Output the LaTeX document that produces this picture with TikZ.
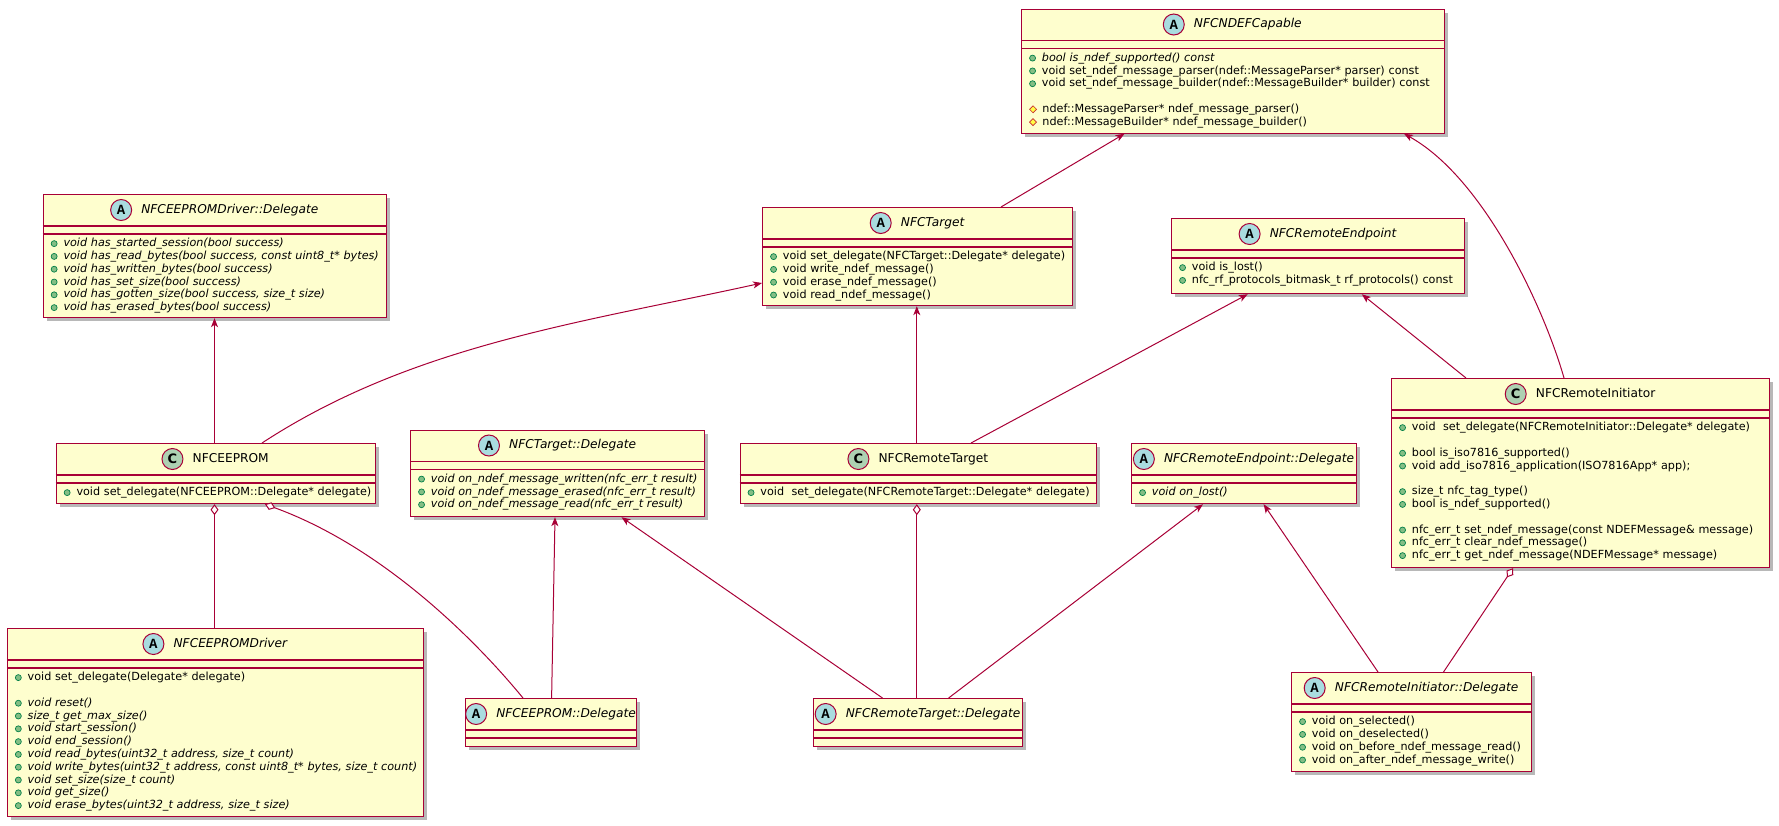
\documentclass[tikz,border=0pt]{standalone}
\usepackage{fontspec}
\setmainfont{DejaVu Sans}
\newfontfamily\monofont{Liberation Mono}
\usepackage{xcolor}
\usetikzlibrary{arrows.meta}
\usetikzlibrary{positioning}
\usetikzlibrary{shadows}

\definecolor{boxfill}{HTML}{FEFECE}
\definecolor{boxline}{HTML}{A80036}
\definecolor{absfill}{HTML}{A9DCDF}
\definecolor{clsfill}{HTML}{ADD1B2}
\definecolor{pubfill}{HTML}{84BE84}
\definecolor{publine}{HTML}{038048}
\definecolor{protfill}{HTML}{FFFF44}
\definecolor{protline}{HTML}{C82930}

\newcommand\titlefont{\fontsize{12.2}{14}\selectfont}
\newcommand\memberfont{\fontsize{11.2}{12.8}\selectfont}

\tikzset{
  pubicon/.style={draw=publine, fill=pubfill, line width=.7pt},
  proticon/.style={draw=protline, fill=protfill, line width=.7pt},
}
\newcommand\pub{\tikz[baseline=-3.1pt]\filldraw[pubicon] (0pt,0pt) circle (3pt);\hspace{6pt}}
\newcommand\prot{\tikz[baseline=-3.1pt]\filldraw[proticon] (-3.5pt,0pt) -- (0pt,3.5pt) -- (3.5pt,0pt) -- (0pt,-3.5pt) -- cycle;\hspace{5.5pt}}

% name, x, y, width, height, kind (A/C), title, members
\newcommand\umlclass[8]{%
  \node[classbox, minimum width=#4pt, minimum height=#5pt] (#1) at (#2,#3) {};
  \draw[classline] ([yshift=-32pt]#1.north west) -- ([yshift=-32pt]#1.north east);
  \draw[classline] ([yshift=-40pt]#1.north west) -- ([yshift=-40pt]#1.north east);
  \node[title#6] (#1-t) at ([xshift=15pt,yshift=-16pt]#1.north) {#7};
  \node[icon#6, left=9pt of #1-t] (#1-i) {#6};
  \node[members] (#1-m) at ([xshift=8pt,yshift=-44pt]#1.north west) {#8};
}

\begin{document}
\begin{tikzpicture}[x=1pt, y=-1pt,
    classbox/.style={draw=boxline, fill=boxfill, line width=1.2pt, anchor=north west, inner sep=0pt,
      drop shadow={shadow xshift=3.5pt, shadow yshift=-3.5pt, fill=black, opacity=.28}},
    classline/.style={draw=boxline, line width=1.2pt},
    titleA/.style={inner sep=0pt, text height=9pt, text depth=2.5pt, font=\titlefont\itshape},
    titleC/.style={inner sep=0pt, text height=9pt, text depth=2.5pt, font=\titlefont},
    iconA/.style={circle, draw=boxline, fill=absfill, line width=1pt, minimum size=21pt, inner sep=0pt,
      font=\monofont\bfseries\fontsize{14}{14}\selectfont},
    iconC/.style={circle, draw=boxline, fill=clsfill, line width=1pt, minimum size=21pt, inner sep=0pt,
      font=\bfseries\fontsize{13}{13}\selectfont},
    members/.style={anchor=north west, inner sep=0pt, align=left, text width=700pt, font=\memberfont},
    assoc/.style={draw=boxline, line width=1pt, -{Stealth[length=9pt, width=7pt, inset=2.5pt]}},
    aggr/.style={draw=boxline, line width=1pt, {Diamond[fill=white, length=11pt, width=8pt]}-},
  ]
\useasboundingbox (0,0) rectangle (1779,825);

% top row
\umlclass{ndefcap}{1021}{8.5}{422.5}{124}{A}{NFCNDEFCapable}{%
  \pub\textit{bool is\_ndef\_supported() const}\\
  \pub void set\_ndef\_message\_parser(ndef::MessageParser* parser) const\\
  \pub void set\_ndef\_message\_builder(ndef::MessageBuilder* builder) const\\[12.8pt]
  \prot ndef::MessageParser* ndef\_message\_parser()\\
  \prot ndef::MessageBuilder* ndef\_message\_builder()}
\umlclass{eepdrvdel}{42.6}{194}{343.4}{123}{A}{NFCEEPROMDriver::Delegate}{%
  \pub\textit{void has\_started\_session(bool success)}\\
  \pub\textit{void has\_read\_bytes(bool success, const uint8\_t* bytes)}\\
  \pub\textit{void has\_written\_bytes(bool success)}\\
  \pub\textit{void has\_set\_size(bool success)}\\
  \pub\textit{void has\_gotten\_size(bool success, size\_t size)}\\
  \pub\textit{void has\_erased\_bytes(bool success)}}
\umlclass{target}{762}{207}{310}{98}{A}{NFCTarget}{%
  \pub void set\_delegate(NFCTarget::Delegate* delegate)\\
  \pub void write\_ndef\_message()\\
  \pub void erase\_ndef\_message()\\
  \pub void read\_ndef\_message()}
\umlclass{endpoint}{1171}{218}{293}{75}{A}{NFCRemoteEndpoint}{%
  \pub void is\_lost()\\
  \pub nfc\_rf\_protocols\_bitmask\_t rf\_protocols() const}

% middle row
\umlclass{eeprom}{55.6}{443}{319}{60}{C}{NFCEEPROM}{%
  \pub void set\_delegate(NFCEEPROM::Delegate* delegate)}
\umlclass{targetdel}{410}{429.5}{294}{86.5}{A}{NFCTarget::Delegate}{%
  \pub\textit{void on\_ndef\_message\_written(nfc\_err\_t result)}\\
  \pub\textit{void on\_ndef\_message\_erased(nfc\_err\_t result)}\\
  \pub\textit{void on\_ndef\_message\_read(nfc\_err\_t result)}}
\umlclass{rtarget}{739.5}{443}{356.5}{60}{C}{NFCRemoteTarget}{%
  \pub void\ \ set\_delegate(NFCRemoteTarget::Delegate* delegate)}
\umlclass{endpointdel}{1131}{443}{225}{60}{A}{NFCRemoteEndpoint::Delegate}{%
  \pub\textit{void on\_lost()}}
\umlclass{initiator}{1391}{378}{378}{189}{C}{NFCRemoteInitiator}{%
  \pub void\ \ set\_delegate(NFCRemoteInitiator::Delegate* delegate)\\[12.8pt]
  \pub bool is\_iso7816\_supported()\\
  \pub void add\_iso7816\_application(ISO7816App* app);\\[12.8pt]
  \pub size\_t nfc\_tag\_type()\\
  \pub bool is\_ndef\_supported()\\[12.8pt]
  \pub nfc\_err\_t set\_ndef\_message(const NDEFMessage\& message)\\
  \pub nfc\_err\_t clear\_ndef\_message()\\
  \pub nfc\_err\_t get\_ndef\_message(NDEFMessage* message)}

% bottom row
\umlclass{eepdrv}{6.8}{628}{416}{188}{A}{NFCEEPROMDriver}{%
  \pub void set\_delegate(Delegate* delegate)\\[12.8pt]
  \pub\textit{void reset()}\\
  \pub\textit{size\_t get\_max\_size()}\\
  \pub\textit{void start\_session()}\\
  \pub\textit{void end\_session()}\\
  \pub\textit{void read\_bytes(uint32\_t address, size\_t count)}\\
  \pub\textit{void write\_bytes(uint32\_t address, const uint8\_t* bytes, size\_t count)}\\
  \pub\textit{void set\_size(size\_t count)}\\
  \pub\textit{void get\_size()}\\
  \pub\textit{void erase\_bytes(uint32\_t address, size\_t size)}}
\umlclass{eepdel}{465}{698}{171}{48}{A}{NFCEEPROM::Delegate}{}
\umlclass{rtargetdel}{813}{698}{209}{48}{A}{NFCRemoteTarget::Delegate}{}
\umlclass{initdel}{1291}{672}{240}{99}{A}{NFCRemoteInitiator::Delegate}{%
  \pub void on\_selected()\\
  \pub void on\_deselected()\\
  \pub void on\_before\_ndef\_message\_read()\\
  \pub void on\_after\_ndef\_message\_write()}

% arrows
\draw[assoc] ([xshift=158.9pt]eeprom.north west) -- ([xshift=171.9pt]eepdrvdel.south west);
\draw[assoc] ([xshift=206.4pt]eeprom.north west) .. controls (412,345) and (580,323) .. ([yshift=-76pt]target.north west);
\draw[assoc] ([xshift=239pt]target.north west) -- ([xshift=103.5pt]ndefcap.south west);
\draw[assoc] ([xshift=173pt]initiator.north west) .. controls (1544,308) and (1484,178) .. ([xshift=383pt]ndefcap.south west);
\draw[assoc] ([xshift=177.3pt]rtarget.north west) -- ([xshift=154.8pt]target.south west);
\draw[assoc] ([xshift=231.5pt]rtarget.north west) -- ([xshift=76.7pt]endpoint.south west);
\draw[assoc] ([xshift=75pt]initiator.north west) -- ([xshift=190.8pt]endpoint.south west);
\draw[assoc] ([xshift=86.6pt]eepdel.north west) -- ([xshift=145pt]targetdel.south west);
\draw[assoc] ([xshift=69.5pt]rtargetdel.north west) -- ([xshift=211.5pt]targetdel.south west);
\draw[assoc] ([xshift=135.6pt]rtargetdel.north west) -- ([xshift=72pt]endpointdel.south west);
\draw[assoc] ([xshift=87pt]initdel.north west) -- ([xshift=132.6pt]endpointdel.south west);

% aggregations
\draw[aggr] ([xshift=158.9pt]eeprom.south west) -- ([xshift=207.7pt]eepdrv.north west);
\draw[aggr] ([xshift=209.4pt]eeprom.south west) .. controls (385,548) and (478,643) .. ([xshift=58pt]eepdel.north west);
\draw[aggr] ([xshift=177.3pt]rtarget.south west) -- ([xshift=103.8pt]rtargetdel.north west);
\draw[aggr] ([xshift=122pt]initiator.south west) -- ([xshift=152.5pt]initdel.north west);
\end{tikzpicture}
\end{document}
